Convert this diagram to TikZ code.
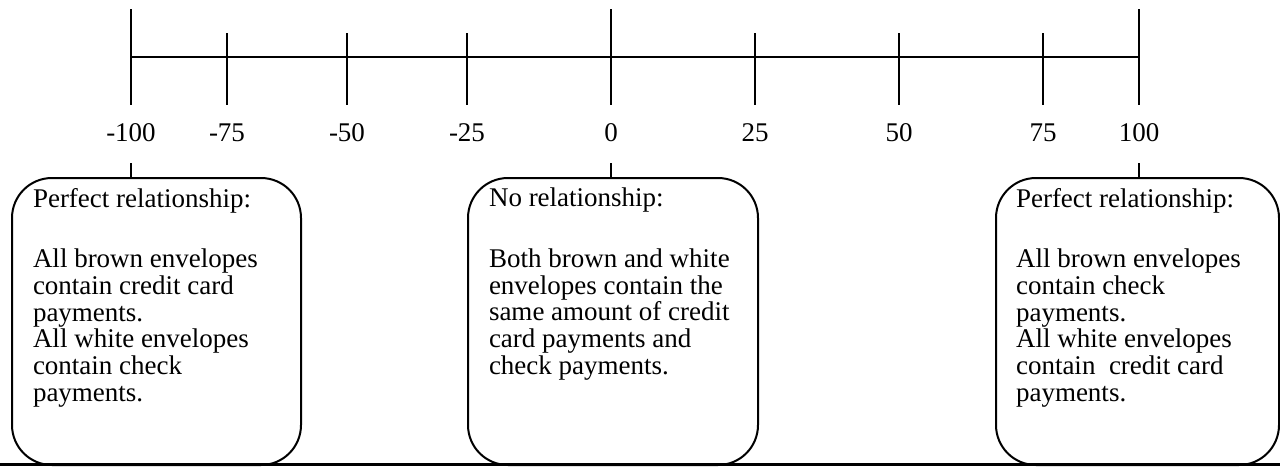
\documentclass[tikz,border=0pt]{standalone}
\usepackage{fontspec}
\setmainfont{Liberation Serif}
\usetikzlibrary{positioning}

\begin{document}
\begin{tikzpicture}[%
    x=0.5pt, y=-0.5pt,          % one unit per pixel of the layout
    line width=1pt,             % all strokes alike
    ]
% -------------------------------------------------
% Styles for labels, boxes and texts
\tikzset{
  lbl/.style={font=\fontsize{13.5}{13.35}\selectfont, inner sep=0pt},
  card/.style={draw, rounded corners=20pt, minimum width=#1,
    minimum height=143.5pt, inner sep=0pt, anchor=north west},
  txt/.style={lbl, align=left, anchor=north west},
  stub/.style={shorten <=10pt},
}
\useasboundingbox (0,0) rectangle (1280,466);
% -------------------------------------------------
% The scale with its ticks and numbers
\coordinate (axl) at (131,57);
\coordinate (axr) at (1139,57);
\draw (axl) -- (axr);
\foreach \x/\v/\top [count=\i] in {131/-100/9, 227/-75/33, 347/-50/33,
    467/-25/33, 611/0/9, 755/25/33, 899/50/33, 1043/75/33, 1139/100/9}{
  \draw (\x,\top) -- (\x,105);
  \node [lbl] (t\i) at (\x,133) {\v};
}
% -------------------------------------------------
% The three boxes and their texts
\node [card=144.5pt] (bl) at (11,177) {};
\node [card=145pt] (bm) at (467,177) {};
\node [card=141.5pt] (br) at (995,177) {};

\node [txt] (xl) at (32,187) {Perfect relationship:\\[17pt]
  All brown envelopes\\ contain credit card\\ payments.\\
  All white envelopes\\ contain check\\ payments.};
\node [txt] (xm) at (488,187) {No relationship:\\[17pt]
  Both brown and white\\ envelopes contain the\\ same amount of credit\\
  card payments and\\ check payments.};
\node [txt] (xr) at (1015,187) {Perfect relationship:\\[17pt]
  All brown envelopes\\ contain check\\ payments.\\
  All white envelopes\\ contain\ \ credit card\\ payments.};

\draw [stub] (t1) -- (t1 |- bl.north);	%-100 to left box
\draw [stub] (t5) -- (t5 |- bm.north);	%0 to middle box
\draw [stub] (t9) -- (t9 |- br.north);	%100 to right box

% bottom edge
\coordinate (botl) at (0,464);
\coordinate (botr) at (1280,464);
\draw [line width=1.5pt] (botl) -- (botr);
% -------------------------------------------------
\end{tikzpicture}
\end{document}
